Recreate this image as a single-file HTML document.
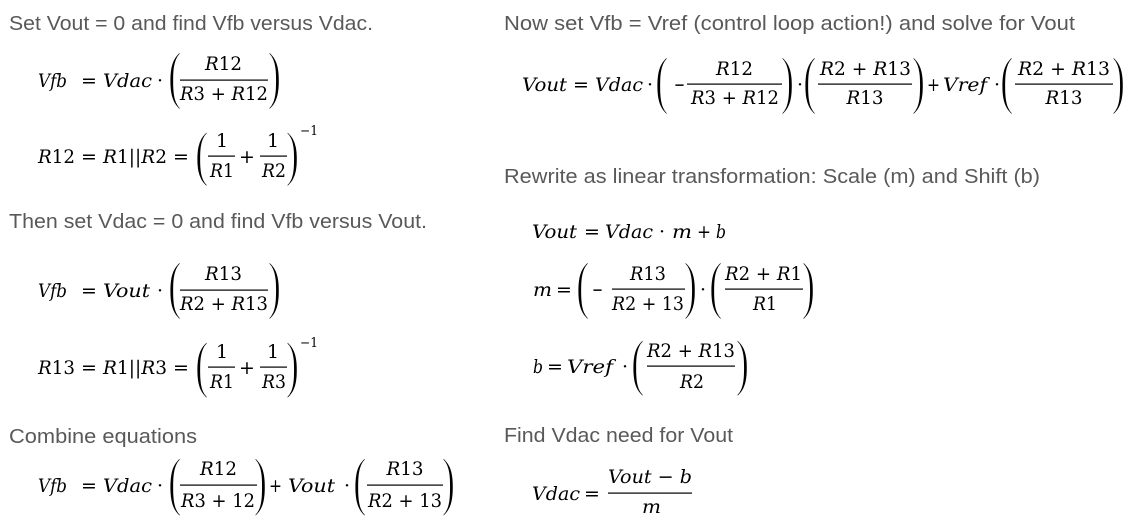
<!DOCTYPE html>
<html><head><meta charset="utf-8">
<style>
html,body{margin:0;padding:0;background:#fff;}
svg{display:block;}
.h{font-family:"Liberation Sans",sans-serif;font-size:20px;fill:#595959;}
.m{font-family:"DejaVu Serif",serif;font-size:19px;font-style:italic;fill:#000;}
.o{font-family:"DejaVu Serif",serif;font-size:19px;font-style:normal;fill:#000;}
.u{font-style:normal;}
.s{font-family:"DejaVu Serif",serif;font-size:13px;fill:#000;}
.p{font-family:"Liberation Serif",serif;font-size:40px;fill:#000;stroke:#fff;stroke-width:1px;}
.d{font-family:"DejaVu Serif",serif;font-size:19px;fill:#000;text-anchor:middle;}
</style></head>
<body>
<svg width="1131" height="525" viewBox="0 0 1131 525" xmlns="http://www.w3.org/2000/svg">
<rect width="1131" height="525" fill="#fff"/>

<!-- Headings -->
<text class="h" x="9" y="30" textLength="364" lengthAdjust="spacingAndGlyphs">Set Vout = 0 and find Vfb versus Vdac.</text>
<text class="h" x="9" y="228" textLength="418" lengthAdjust="spacingAndGlyphs">Then set Vdac = 0 and find Vfb versus Vout.</text>
<text class="h" x="9" y="443" textLength="188" lengthAdjust="spacingAndGlyphs">Combine equations</text>
<text class="h" x="504" y="30" textLength="571" lengthAdjust="spacingAndGlyphs">Now set Vfb = Vref (control loop action!) and solve for Vout</text>
<text class="h" x="504" y="183" textLength="536" lengthAdjust="spacingAndGlyphs">Rewrite as linear transformation: Scale (m) and Shift (b)</text>
<text class="h" x="504" y="442" textLength="229" lengthAdjust="spacingAndGlyphs">Find Vdac need for Vout</text>

<!-- Eq A -->
<text class="m" x="38" y="87" textLength="29" lengthAdjust="spacingAndGlyphs">Vfb</text>
<text class="o" x="81" y="87">=</text>
<text class="m" x="103" y="87" textLength="49" lengthAdjust="spacingAndGlyphs">Vdac</text>
<text class="d" x="160" y="87">·</text>
<text class="p" transform="translate(168.1,96.4) scale(1,1.609)">(</text>
<text class="m" x="205" y="70" textLength="37" lengthAdjust="spacingAndGlyphs">R<tspan class="u">12</tspan></text>
<rect x="180" y="79.5" width="88" height="1.2" fill="#000"/>
<text class="m" x="180" y="100" textLength="88" lengthAdjust="spacingAndGlyphs">R<tspan class="u">3 + </tspan>R<tspan class="u">12</tspan></text>
<text class="p" transform="translate(267.8,96.4) scale(1,1.609)">)</text>

<!-- Eq B -->
<text class="m" x="38" y="163" textLength="37" lengthAdjust="spacingAndGlyphs">R<tspan class="u">12</tspan></text>
<text class="o" x="81" y="163">=</text>
<text class="m" x="103" y="163" textLength="64" lengthAdjust="spacingAndGlyphs">R<tspan class="u">1||</tspan>R<tspan class="u">2</tspan></text>
<text class="o" x="173" y="163">=</text>
<text class="p" transform="translate(195.1,174.0) scale(1,1.523)">(</text>
<text class="d" x="222" y="147">1</text>
<rect x="208" y="155.5" width="27" height="1.2" fill="#000"/>
<text class="m" x="210" y="177" textLength="24" lengthAdjust="spacingAndGlyphs">R<tspan class="u">1</tspan></text>
<text class="d" x="247" y="163">+</text>
<text class="d" x="273" y="147">1</text>
<rect x="260" y="155.5" width="27" height="1.2" fill="#000"/>
<text class="m" x="262" y="177" textLength="24" lengthAdjust="spacingAndGlyphs">R<tspan class="u">2</tspan></text>
<text class="p" transform="translate(285.8,174.0) scale(1,1.523)">)</text>
<text class="s" x="300" y="135" textLength="18" lengthAdjust="spacingAndGlyphs">−1</text>

<!-- Eq C -->
<text class="m" x="38" y="297" textLength="29" lengthAdjust="spacingAndGlyphs">Vfb</text>
<text class="o" x="81" y="297">=</text>
<text class="m" x="103" y="297" textLength="47" lengthAdjust="spacingAndGlyphs">Vout</text>
<text class="d" x="160" y="297">·</text>
<text class="p" transform="translate(168.1,306.4) scale(1,1.609)">(</text>
<text class="m" x="205" y="280" textLength="37" lengthAdjust="spacingAndGlyphs">R<tspan class="u">13</tspan></text>
<rect x="180" y="289.5" width="88" height="1.2" fill="#000"/>
<text class="m" x="180" y="310" textLength="88" lengthAdjust="spacingAndGlyphs">R<tspan class="u">2 + </tspan>R<tspan class="u">13</tspan></text>
<text class="p" transform="translate(267.8,306.4) scale(1,1.609)">)</text>

<!-- Eq D -->
<text class="m" x="38" y="374" textLength="37" lengthAdjust="spacingAndGlyphs">R<tspan class="u">13</tspan></text>
<text class="o" x="81" y="374">=</text>
<text class="m" x="103" y="374" textLength="64" lengthAdjust="spacingAndGlyphs">R<tspan class="u">1||</tspan>R<tspan class="u">3</tspan></text>
<text class="o" x="173" y="374">=</text>
<text class="p" transform="translate(195.1,385.6) scale(1,1.58)">(</text>
<text class="d" x="222" y="358">1</text>
<rect x="208" y="366.5" width="27" height="1.2" fill="#000"/>
<text class="m" x="210" y="388" textLength="24" lengthAdjust="spacingAndGlyphs">R<tspan class="u">1</tspan></text>
<text class="d" x="247" y="374">+</text>
<text class="d" x="273" y="358">1</text>
<rect x="260" y="366.5" width="27" height="1.2" fill="#000"/>
<text class="m" x="262" y="388" textLength="24" lengthAdjust="spacingAndGlyphs">R<tspan class="u">3</tspan></text>
<text class="p" transform="translate(285.8,385.6) scale(1,1.58)">)</text>
<text class="s" x="300" y="347" textLength="18" lengthAdjust="spacingAndGlyphs">−1</text>

<!-- Eq E (combine) -->
<text class="m" x="38" y="492" textLength="29" lengthAdjust="spacingAndGlyphs">Vfb</text>
<text class="o" x="81" y="492">=</text>
<text class="m" x="103" y="492" textLength="49" lengthAdjust="spacingAndGlyphs">Vdac</text>
<text class="d" x="160" y="492">·</text>
<text class="p" transform="translate(168.1,503.2) scale(1,1.638)">(</text>
<text class="m" x="200" y="475" textLength="37" lengthAdjust="spacingAndGlyphs">R<tspan class="u">12</tspan></text>
<rect x="180" y="484.5" width="77" height="1.2" fill="#000"/>
<text class="m" x="181" y="507" textLength="74" lengthAdjust="spacingAndGlyphs">R<tspan class="u">3 + 12</tspan></text>
<text class="p" transform="translate(253.8,503.2) scale(1,1.638)">)</text>
<text class="o" x="269" y="492" textLength="13" lengthAdjust="spacingAndGlyphs">+</text>
<text class="m" x="288" y="492" textLength="47" lengthAdjust="spacingAndGlyphs">Vout</text>
<text class="d" x="347" y="492">·</text>
<text class="p" transform="translate(353.1,503.2) scale(1,1.638)">(</text>
<text class="m" x="386.5" y="475" textLength="37" lengthAdjust="spacingAndGlyphs">R<tspan class="u">13</tspan></text>
<rect x="367" y="484.5" width="76" height="1.2" fill="#000"/>
<text class="m" x="368" y="507" textLength="74" lengthAdjust="spacingAndGlyphs">R<tspan class="u">2 + 13</tspan></text>
<text class="p" transform="translate(441.8,503.2) scale(1,1.638)">)</text>

<!-- Eq F -->
<text class="m" x="522" y="91" textLength="45" lengthAdjust="spacingAndGlyphs">Vout</text>
<text class="o" x="573" y="91">=</text>
<text class="m" x="595" y="91" textLength="48" lengthAdjust="spacingAndGlyphs">Vdac</text>
<text class="d" x="650" y="91">·</text>
<text class="p" transform="translate(655.1,101.4) scale(1,1.609)">(</text>
<text class="o" x="674" y="91" textLength="11" lengthAdjust="spacingAndGlyphs">−</text>
<text class="m" x="716" y="75" textLength="37" lengthAdjust="spacingAndGlyphs">R<tspan class="u">12</tspan></text>
<rect x="687" y="83.5" width="95" height="1.2" fill="#000"/>
<text class="m" x="691" y="104" textLength="88" lengthAdjust="spacingAndGlyphs">R<tspan class="u">3 + </tspan>R<tspan class="u">12</tspan></text>
<text class="p" transform="translate(780.8,101.4) scale(1,1.609)">)</text>
<text class="d" x="800" y="91">·</text>
<text class="p" transform="translate(803.1,101.4) scale(1,1.609)">(</text>
<text class="m" x="820" y="75" textLength="91" lengthAdjust="spacingAndGlyphs">R<tspan class="u">2 + </tspan>R<tspan class="u">13</tspan></text>
<rect x="818" y="83.5" width="94" height="1.2" fill="#000"/>
<text class="m" x="846.5" y="104" textLength="37" lengthAdjust="spacingAndGlyphs">R<tspan class="u">13</tspan></text>
<text class="p" transform="translate(911.8,101.4) scale(1,1.609)">)</text>
<text class="o" x="927" y="91" textLength="13" lengthAdjust="spacingAndGlyphs">+</text>
<text class="m" x="943" y="91" textLength="44" lengthAdjust="spacingAndGlyphs">Vref</text>
<text class="d" x="997" y="91">·</text>
<text class="p" transform="translate(1000.1,101.4) scale(1,1.609)">(</text>
<text class="m" x="1018" y="75" textLength="92" lengthAdjust="spacingAndGlyphs">R<tspan class="u">2 + </tspan>R<tspan class="u">13</tspan></text>
<rect x="1015" y="83.5" width="98" height="1.2" fill="#000"/>
<text class="m" x="1045.5" y="104" textLength="37" lengthAdjust="spacingAndGlyphs">R<tspan class="u">13</tspan></text>
<text class="p" transform="translate(1111.8,101.4) scale(1,1.609)">)</text>

<!-- Vout = Vdac m + b -->
<text class="m" x="532" y="238" textLength="45" lengthAdjust="spacingAndGlyphs">Vout</text>
<text class="o" x="584" y="238">=</text>
<text class="m" x="605" y="238" textLength="48" lengthAdjust="spacingAndGlyphs">Vdac</text>
<text class="d" x="662" y="238">·</text>
<text class="m" x="672" y="238" textLength="20" lengthAdjust="spacingAndGlyphs">m</text>
<text class="o" x="697" y="238" textLength="14" lengthAdjust="spacingAndGlyphs">+</text>
<text class="m" x="716" y="238" textLength="10" lengthAdjust="spacingAndGlyphs">b</text>

<!-- m = ... -->
<text class="m" x="533" y="296" textLength="19" lengthAdjust="spacingAndGlyphs">m</text>
<text class="o" x="556" y="296">=</text>
<text class="p" transform="translate(576.1,306.4) scale(1,1.609)">(</text>
<text class="o" x="592" y="296" textLength="11" lengthAdjust="spacingAndGlyphs">−</text>
<text class="m" x="630" y="280" textLength="36" lengthAdjust="spacingAndGlyphs">R<tspan class="u">13</tspan></text>
<rect x="612" y="288.5" width="73" height="1.2" fill="#000"/>
<text class="m" x="612" y="310" textLength="72" lengthAdjust="spacingAndGlyphs">R<tspan class="u">2 + 13</tspan></text>
<text class="p" transform="translate(683.8,306.4) scale(1,1.609)">)</text>
<text class="d" x="703" y="296">·</text>
<text class="p" transform="translate(709.1,306.4) scale(1,1.609)">(</text>
<text class="m" x="725" y="280" textLength="77" lengthAdjust="spacingAndGlyphs">R<tspan class="u">2 + </tspan>R<tspan class="u">1</tspan></text>
<rect x="725" y="288.5" width="78" height="1.2" fill="#000"/>
<text class="m" x="753" y="310" textLength="24" lengthAdjust="spacingAndGlyphs">R<tspan class="u">1</tspan></text>
<text class="p" transform="translate(801.8,306.4) scale(1,1.609)">)</text>

<!-- b = ... -->
<text class="m" x="533" y="373" textLength="10" lengthAdjust="spacingAndGlyphs">b</text>
<text class="o" x="547" y="373">=</text>
<text class="m" x="567" y="373" textLength="46" lengthAdjust="spacingAndGlyphs">Vref</text>
<text class="d" x="625" y="373">·</text>
<text class="p" transform="translate(631.1,383.6) scale(1,1.58)">(</text>
<text class="m" x="647" y="357" textLength="88" lengthAdjust="spacingAndGlyphs">R<tspan class="u">2 + </tspan>R<tspan class="u">13</tspan></text>
<rect x="647" y="365.5" width="88" height="1.2" fill="#000"/>
<text class="m" x="680" y="388" textLength="24" lengthAdjust="spacingAndGlyphs">R<tspan class="u">2</tspan></text>
<text class="p" transform="translate(735.8,383.6) scale(1,1.58)">)</text>

<!-- Vdac = (Vout - b)/m -->
<text class="m" x="532" y="500" textLength="48" lengthAdjust="spacingAndGlyphs">Vdac</text>
<text class="o" x="584" y="500">=</text>
<text class="m" x="608" y="483" textLength="84" lengthAdjust="spacingAndGlyphs">Vout <tspan class="u">−</tspan> b</text>
<rect x="608" y="492.5" width="84" height="1.2" fill="#000"/>
<text class="m" x="642" y="513" textLength="19" lengthAdjust="spacingAndGlyphs">m</text>
</svg>
</body></html>
